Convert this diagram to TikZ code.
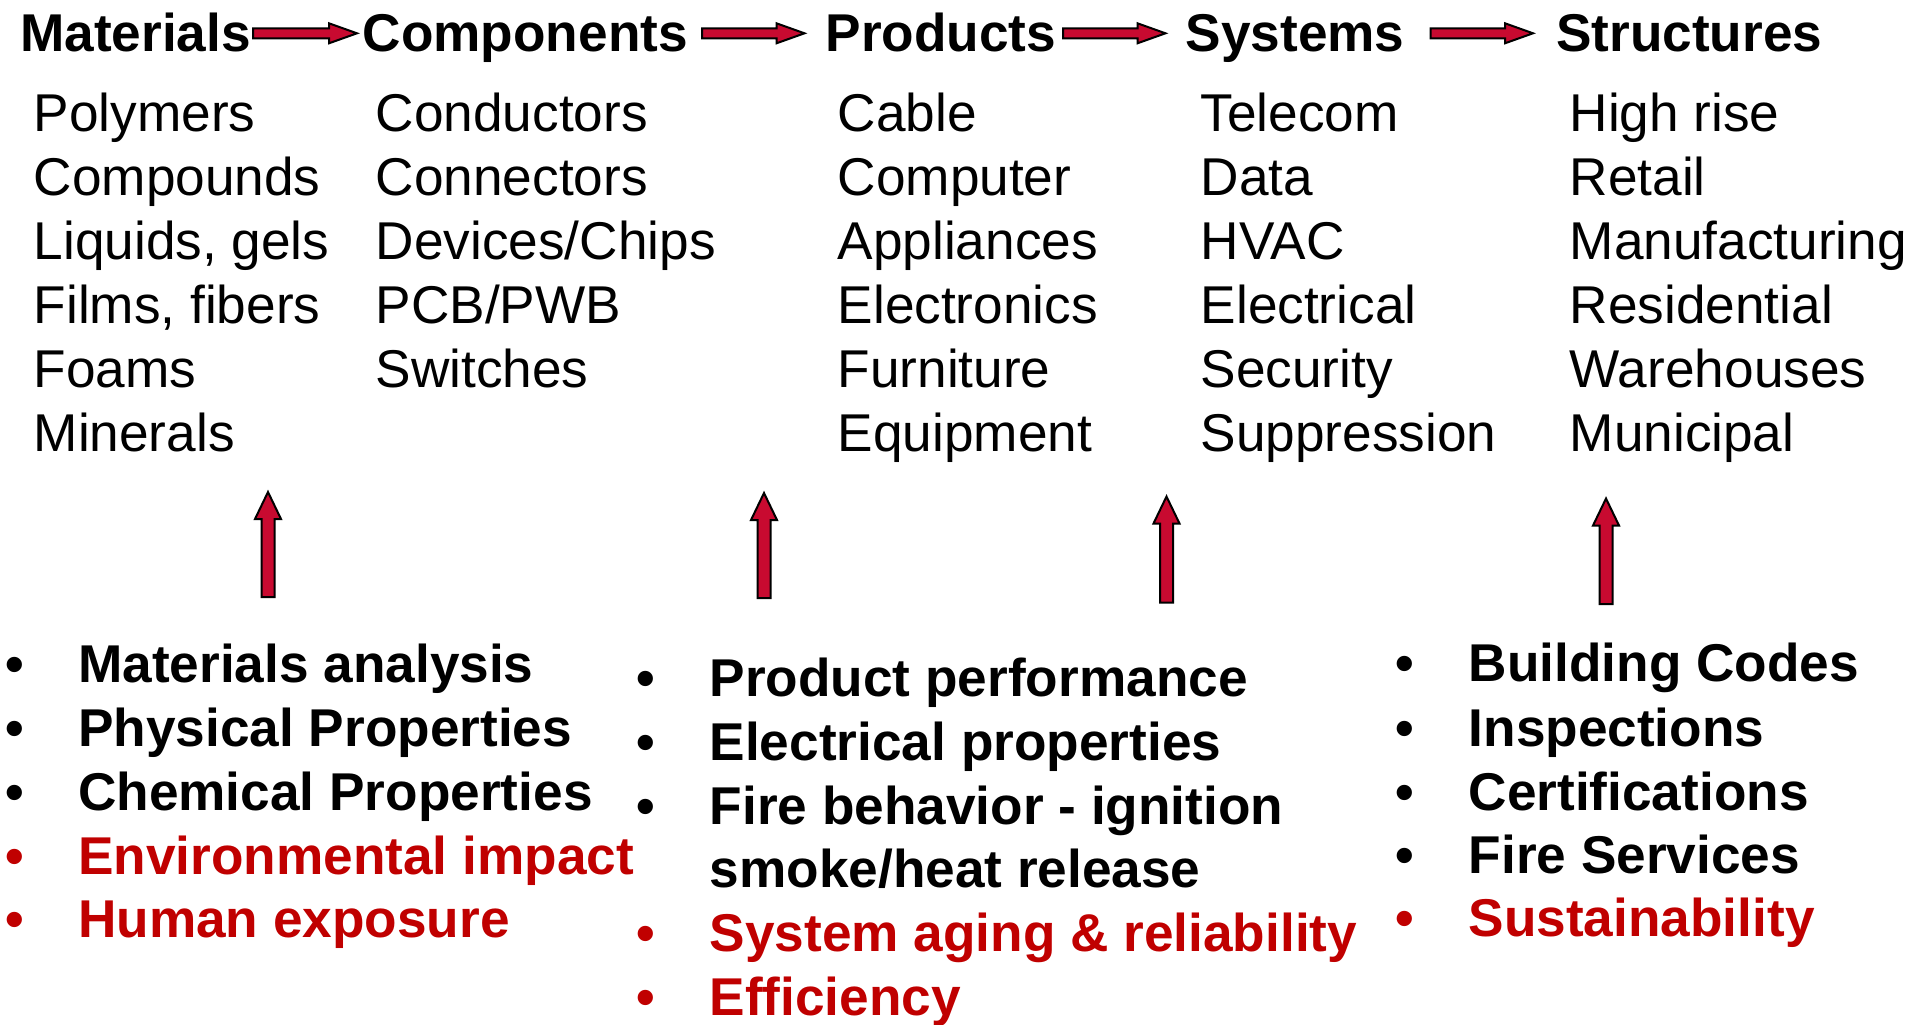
\documentclass[tikz,border=0pt]{standalone}
\usepackage{fontspec}
\setmainfont{Liberation Sans}
\usetikzlibrary{calc}

\definecolor{arrowred}{RGB}{200,10,48}
\definecolor{textred}{RGB}{192,0,0}

% block arrow pointing right: #1 tail, #2 tip
\newcommand\rightblock[2]{%
  \filldraw[blockarrow] ($(#1)+(0,-5)$) -- ($(#2)+(-28,-5)$) -- ($(#2)+(-28,-10)$)
    -- (#2) -- ($(#2)+(-28,10)$) -- ($(#2)+(-28,5)$) -- ($(#1)+(0,5)$) -- cycle;}
% block arrow pointing up: #1 tail, #2 tip
\newcommand\upblock[2]{%
  \filldraw[blockarrow] ($(#1)+(-6.5,0)$) -- ($(#2)+(-6.5,27)$) -- ($(#2)+(-13,27)$)
    -- (#2) -- ($(#2)+(13,27)$) -- ($(#2)+(6.5,27)$) -- ($(#1)+(6.5,0)$) -- cycle;}

\tikzset{
  blockarrow/.style={fill=arrowred, draw=black, line width=2pt, line join=miter},
  hdr/.style={font=\fontsize{53.2}{60}\selectfont\bfseries, anchor=base west, inner sep=0pt},
  item/.style={font=\fontsize{53.2}{60}\selectfont, anchor=base west, inner sep=0pt},
  point/.style={font=\fontsize{53.2}{60}\selectfont\bfseries, anchor=base west, inner sep=0pt},
  dot/.style={font=\fontsize{53.2}{60}\selectfont\bfseries, anchor=base, inner sep=0pt},
  hot/.style={text=textred},
}

\begin{document}
\begin{tikzpicture}[x=1pt, y=-1pt]
\useasboundingbox (0,0) rectangle (1915,1025);

% chain headers
\node[hdr] (hMat)  at (20,52)   {Materials};
\node[hdr] (hComp) at (362.5,52)  {Components};
\node[hdr] (hProd) at (825.5,52)  {Products};
\node[hdr] (hSys)  at (1185.5,52) {Systems};
\node[hdr] (hStr)  at (1556,52) {Structures};

% arrows between the headers
\coordinate (a1s) at (253,33.3);   \coordinate (a1e) at (357,33.3);
\coordinate (a2s) at (702,33.3);   \coordinate (a2e) at (804.5,33.3);
\coordinate (a3s) at (1063,33.3);  \coordinate (a3e) at (1165.5,33.3);
\coordinate (a4s) at (1430.5,33.3);\coordinate (a4e) at (1533,33.3);
\rightblock{a1s}{a1e}
\rightblock{a2s}{a2e}
\rightblock{a3s}{a3e}
\rightblock{a4s}{a4e}

% examples under each header
\foreach \t [count=\i] in {Polymers, Compounds, {Liquids, gels}, {Films, fibers}, Foams, Minerals}
  \node[item] (mat\i) at (33.5,{131+64*(\i-1)}) {\t};
\foreach \t [count=\i] in {Conductors, Connectors, Devices/Chips, PCB/PWB, Switches}
  \node[item] (comp\i) at (375.5,{131+64*(\i-1)}) {\t};
\foreach \t [count=\i] in {Cable, Computer, Appliances, Electronics, Furniture, Equipment}
  \node[item] (prod\i) at (837.5,{131+64*(\i-1)}) {\t};
\foreach \t [count=\i] in {Telecom, Data, HVAC, Electrical, Security, Suppression}
  \node[item] (sys\i) at (1200.5,{131+64*(\i-1)}) {\t};
\foreach \t [count=\i] in {High rise, Retail, Manufacturing, Residential, Warehouses, Municipal}
  \node[item] (str\i) at (1569.5,{131+64*(\i-1)}) {\t};

% upward arrows from the assessment lists
\coordinate (v1b) at (268,597);    \coordinate (v1t) at (268,492);
\coordinate (v2b) at (764,598);    \coordinate (v2t) at (764,493);
\coordinate (v3b) at (1166.5,602.5); \coordinate (v3t) at (1166.5,496.5);
\coordinate (v4b) at (1606,604);   \coordinate (v4t) at (1606,498.5);
\upblock{v1b}{v1t}
\upblock{v2b}{v2t}
\upblock{v3b}{v3t}
\upblock{v4b}{v4t}

% left assessment list
\node[dot] (bl1) at (14.7,682) {•};
\node[point] (l1) at (78,682) {Materials analysis};
\node[dot] (bl2) at (14.7,746) {•};
\node[point] (l2) at (78,746) {Physical Properties};
\node[dot] (bl3) at (14.7,810) {•};
\node[point] (l3) at (78,810) {Chemical Properties};
\node[dot,hot] (bl4) at (14.7,874) {•};
\node[point,hot] (l4) at (78,874) {Environmental impact};
\node[dot,hot] (bl5) at (14.7,937) {•};
\node[point,hot] (l5) at (78,937) {Human exposure};

% middle assessment list
\node[dot] (bm1) at (646,696) {•};
\node[point] (m1) at (709.5,696) {Product performance};
\node[dot] (bm2) at (646,760) {•};
\node[point] (m2) at (709.5,760) {Electrical properties};
\node[dot] (bm3) at (646,824) {•};
\node[point] (m3) at (709.5,824) {Fire behavior - ignition};
\node[point] (m4) at (709.5,887) {smoke/heat release};
\node[dot,hot] (bm5) at (646,951.5) {•};
\node[point,hot] (m5) at (709.5,951.5) {System aging \& reliability};
\node[dot,hot] (bm6) at (646,1015) {•};
\node[point,hot] (m6) at (709.5,1015) {Efficiency};

% right assessment list
\node[dot] (br1) at (1404.6,681) {•};
\node[point] (r1) at (1468.5,681) {Building Codes};
\node[dot] (br2) at (1404.6,746) {•};
\node[point] (r2) at (1468.5,746) {Inspections};
\node[dot] (br3) at (1404.6,810) {•};
\node[point] (r3) at (1468.5,810) {Certifications};
\node[dot] (br4) at (1404.6,873) {•};
\node[point] (r4) at (1468.5,873) {Fire Services};
\node[dot,hot] (br5) at (1404.6,936) {•};
\node[point,hot] (r5) at (1468.5,936) {Sustainability};
\end{tikzpicture}
\end{document}
